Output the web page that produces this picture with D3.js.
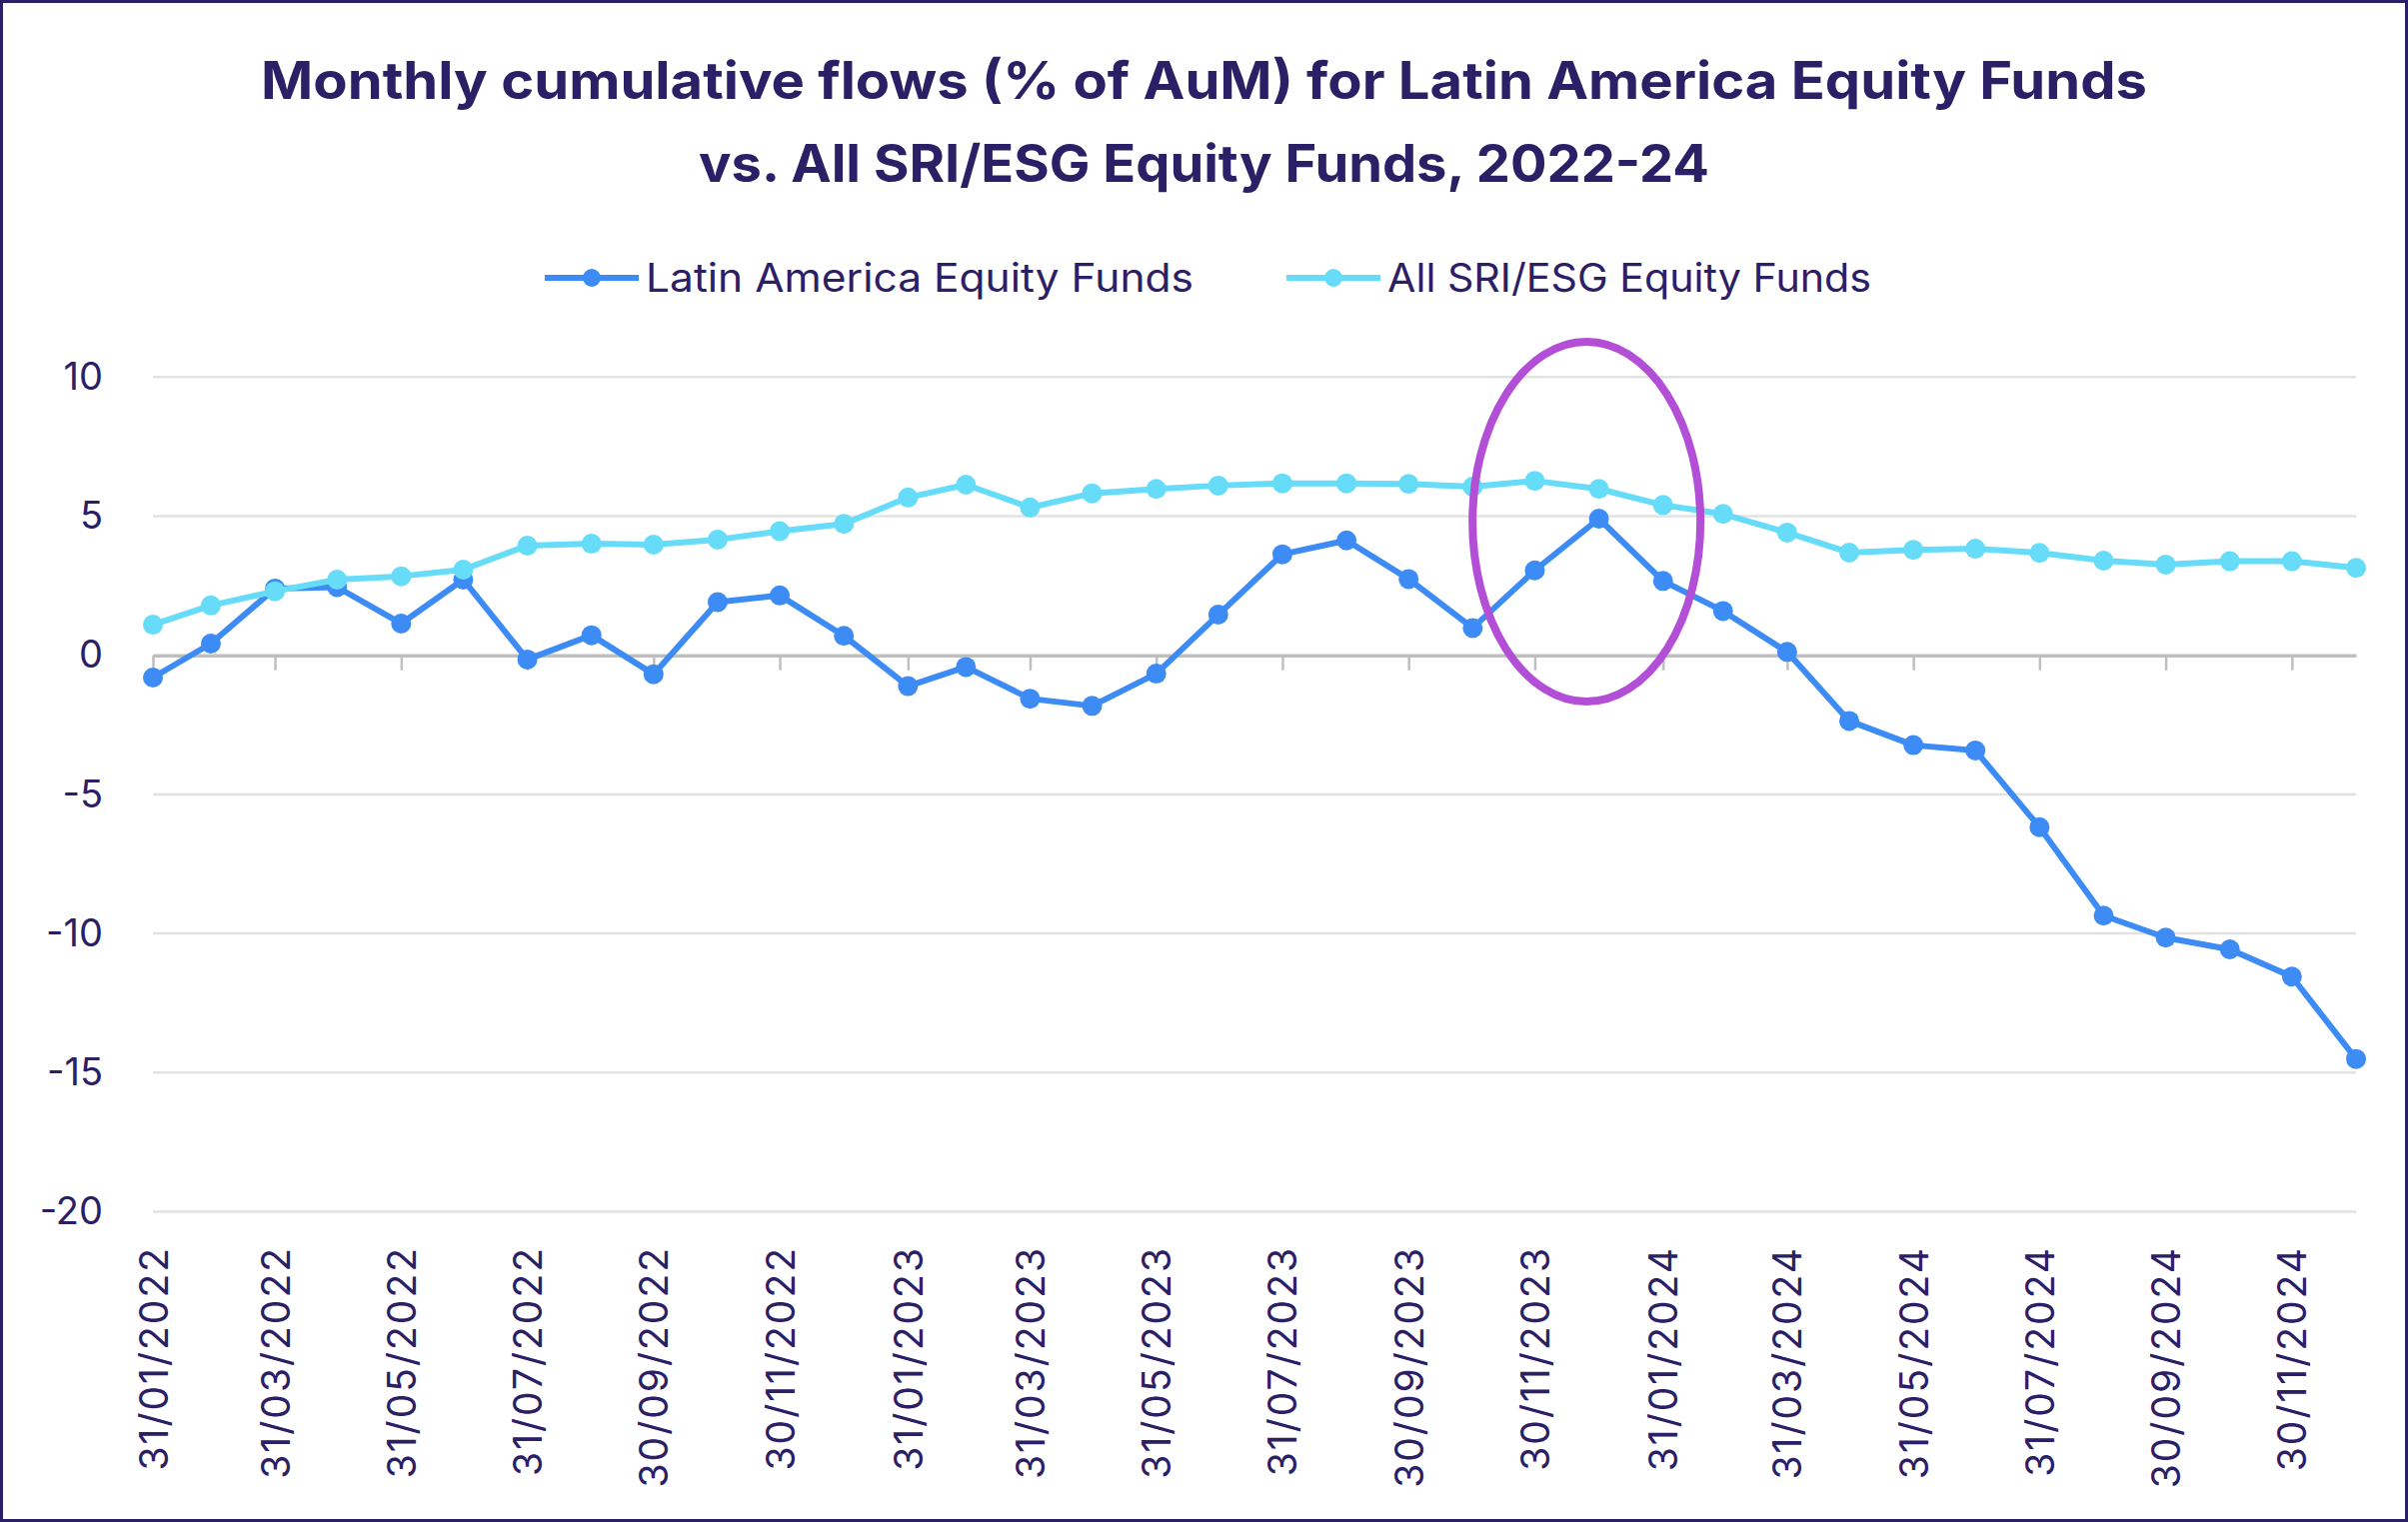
<!DOCTYPE html>
<html><head><meta charset="utf-8">
<script src="https://cdn.jsdelivr.net/npm/d3@7"></script>
<style>body{margin:0;background:#fff}svg{display:block}</style>
</head><body><svg id="c" width="2409" height="1523"></svg>
<script>
const titleLines = ["Monthly cumulative flows (% of AuM) for Latin America Equity Funds", "vs. All SRI/ESG Equity Funds, 2022-24"];
const seriesNames = ["Latin America Equity Funds", "All SRI/ESG Equity Funds"];
const dates = [
  "31/01/2022","28/02/2022","31/03/2022","30/04/2022","31/05/2022","30/06/2022",
  "31/07/2022","31/08/2022","30/09/2022","31/10/2022","30/11/2022","31/12/2022",
  "31/01/2023","28/02/2023","31/03/2023","30/04/2023","31/05/2023","30/06/2023",
  "31/07/2023","31/08/2023","30/09/2023","31/10/2023","30/11/2023","31/12/2023",
  "31/01/2024","29/02/2024","31/03/2024","30/04/2024","31/05/2024","30/06/2024",
  "31/07/2024","31/08/2024","30/09/2024","31/10/2024","30/11/2024","31/12/2024"];
const latam = [
  -0.80, 0.42, 2.40, 2.45, 1.14, 2.72, -0.15, 0.72, -0.68, 1.91, 2.15, 0.70,
  -1.11, -0.42, -1.56, -1.82, -0.66, 1.46, 3.63, 4.13, 2.74, 0.98, 3.05, 4.91,
  2.67, 1.59, 0.12, -2.36, -3.23, -3.42, -6.18, -9.36, -10.15, -10.57, -11.55, -14.51];
const esg = [
  1.10, 1.79, 2.30, 2.72, 2.84, 3.08, 3.94, 4.01, 3.98, 4.16, 4.46, 4.72,
  5.67, 6.13, 5.31, 5.82, 5.98, 6.10, 6.18, 6.18, 6.16, 6.06, 6.27, 5.98,
  5.40, 5.08, 4.41, 3.69, 3.79, 3.83, 3.68, 3.40, 3.26, 3.38, 3.38, 3.14];
const tickLabels = [
  "31/01/2022","31/03/2022","31/05/2022","31/07/2022","30/09/2022","30/11/2022",
  "31/01/2023","31/03/2023","31/05/2023","31/07/2023","30/09/2023","30/11/2023",
  "31/01/2024","31/03/2024","31/05/2024","31/07/2024","30/09/2024","30/11/2024"];
const yTicks = [10, 5, 0, -5, -10, -15, -20];
const highlight = {date: "25/12/2023", value: 4.8};

const NAVY = "#2b2066", BLUE = "#3d8bf5", CYAN = "#66dcf9", PURPLE = "#b24fd6";
const FONT = "Inter, 'Open Sans', sans-serif";
const parse = d3.timeParse("%d/%m/%Y");
const svg = d3.select("#c");

svg.append("rect").attr("x",1.5).attr("y",1.5).attr("width",2406).attr("height",1520)
  .attr("fill","#fff").attr("stroke",NAVY).attr("stroke-width",3);

const x = d3.scaleTime().domain([parse(dates[0]), parse(dates[dates.length-1])]).range([153, 2357]);
const y = d3.scaleLinear().domain([-20, 10]).range([1212.5, 377.3]);

// title
const titleWidths = [1887, 1011];
svg.append("g").selectAll("text").data(titleLines).join("text")
  .attr("x", 1204.5).attr("y", (d,i) => 99 + i*83)
  .attr("text-anchor","middle").attr("font-family",FONT).attr("font-weight",700)
  .attr("font-size",52).attr("fill",NAVY)
  .attr("textLength",(d,i)=>titleWidths[i]).attr("lengthAdjust","spacingAndGlyphs").text(d => d);

// legend
const legX = [545, 1287];
const legW = [548, 484];
const leg = svg.append("g").selectAll("g").data(seriesNames).join("g")
  .attr("transform",(d,i)=>`translate(${legX[i]},278)`);
leg.append("line").attr("x1",0).attr("x2",94).attr("stroke",(d,i)=>i?CYAN:BLUE).attr("stroke-width",6);
leg.append("circle").attr("cx",47).attr("r",9).attr("fill",(d,i)=>i?CYAN:BLUE);
leg.append("text").attr("x",101).attr("y",14).attr("font-family",FONT).attr("font-size",39)
  .attr("textLength",(d,i)=>legW[i]).attr("lengthAdjust","spacingAndGlyphs")
  .attr("fill",NAVY).text(d=>d);

// gridlines
svg.append("g").selectAll("line").data(yTicks.filter(v=>v!==0)).join("line")
  .attr("x1",153).attr("x2",2357).attr("y1",d=>y(d)).attr("y2",d=>y(d))
  .attr("stroke","#e2e2e2").attr("stroke-width",2.5);

// y labels
const yAxis = svg.append("g").attr("transform","translate(103,0)")
  .call(d3.axisLeft(y).tickValues(yTicks).tickSize(0).tickPadding(0).tickFormat(d => d < 0 ? "-" + Math.abs(d) : d));
yAxis.select(".domain").remove();
yAxis.selectAll("text").attr("font-family",FONT).attr("font-size",38).attr("fill",NAVY);

// x axis line + ticks
const tickDates = tickLabels.map(parse);
const xAxis = svg.append("g").attr("transform",`translate(0,${y(0)})`)
  .call(d3.axisBottom(x).tickValues(tickDates).tickSize(15).tickSizeOuter(0).tickFormat(""));
xAxis.select(".domain").attr("stroke","#bfbfbf").attr("stroke-width",3.5);
xAxis.selectAll(".tick line").attr("stroke","#bfbfbf").attr("stroke-width",2.5);

// x labels
const xLab = svg.append("g").attr("transform","translate(0,1247)")
  .call(d3.axisBottom(x).tickValues(tickDates).tickSize(0).tickPadding(0).tickFormat(d3.timeFormat("%d/%m/%Y")));
xLab.select(".domain").remove();
xLab.selectAll("text").attr("transform","rotate(-90)").attr("text-anchor","end")
  .attr("x",0).attr("y",0).attr("dy","0.36em")
  .attr("font-family",FONT).attr("font-size",39).attr("letter-spacing",2).attr("fill",NAVY);

// series
const line = d3.line().x((d,i)=>x(parse(dates[i]))).y(d=>y(d));
[[latam, BLUE],[esg, CYAN]].forEach(([vals,col])=>{
  const g = svg.append("g");
  g.append("path").datum(vals).attr("d",line).attr("fill","none").attr("stroke",col)
    .attr("stroke-width",6).attr("stroke-linejoin","round");
  g.selectAll("circle").data(vals).join("circle")
    .attr("cx",(d,i)=>x(parse(dates[i]))).attr("cy",d=>y(d)).attr("r",10).attr("fill",col);
});

// highlight ellipse
svg.append("ellipse").attr("cx",x(parse(highlight.date))).attr("cy",y(highlight.value))
  .attr("rx",114).attr("ry",180).attr("fill","none").attr("stroke",PURPLE).attr("stroke-width",8);
</script></body></html>
